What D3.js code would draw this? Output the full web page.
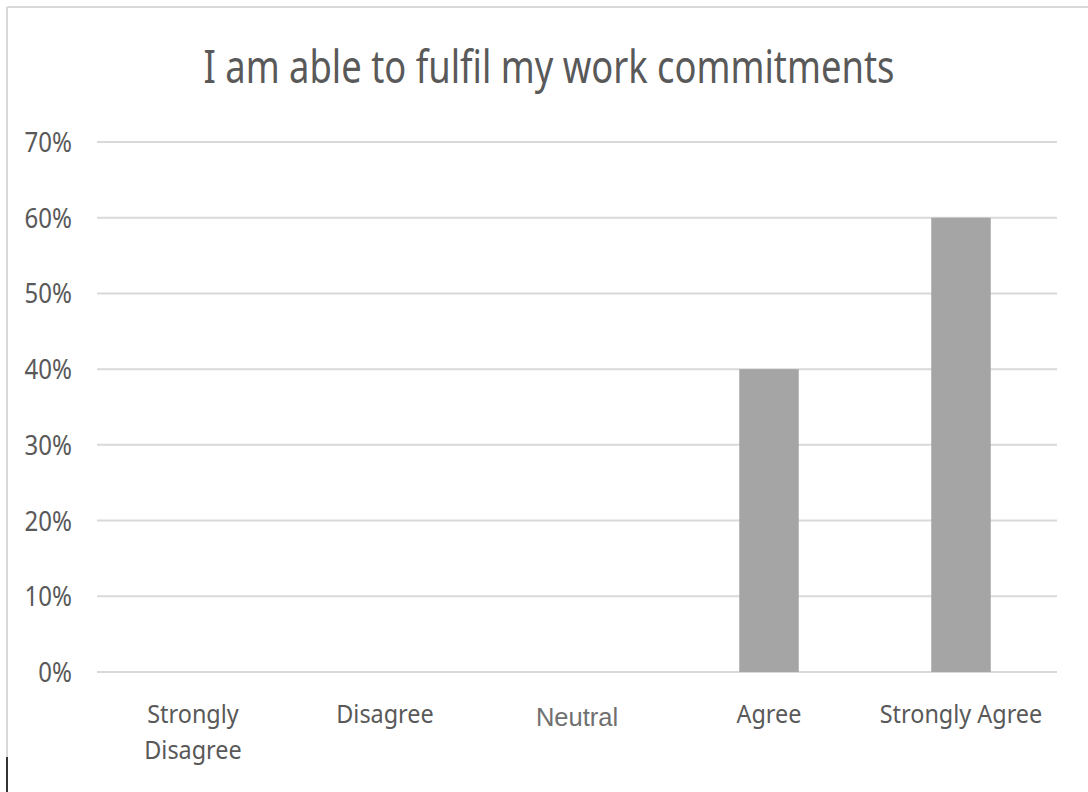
<!DOCTYPE html>
<html>
<head>
<meta charset="utf-8">
<script src="https://cdn.jsdelivr.net/npm/d3@7"></script>
<style>
  body { margin: 0; background: #fff; }
  svg { display: block; }
</style>
</head>
<body>
<div id="main"></div>
<script>

// data

const categories = ['Strongly Disagree', 'Disagree', 'Neutral', 'Agree', 'Strongly Agree'];
const values = [0, 0, 0, 0.40, 0.60];
const yTicks = [0, 0.1, 0.2, 0.3, 0.4, 0.5, 0.6, 0.7];
const chartTitle = 'I am able to fulfil my work commitments';

const w = 1088;
const h = 792;

// the source picture has narrow, tall letters
const squeeze = (sel, f) => sel.each(function () {
    const len = this.getComputedTextLength();
    d3.select(this).attr('textLength', len * f).attr('lengthAdjust', 'spacingAndGlyphs');
});

const svg = d3.select('#main').append('svg').attr('width', w).attr('height', h);

// chart frame
svg.append('line').attr('x1', 7).attr('x2', w).attr('y1', 7).attr('y2', 7)
    .attr('stroke', '#d9d9d9').attr('stroke-width', 2);
svg.append('line').attr('x1', 7).attr('x2', 7).attr('y1', 7).attr('y2', h)
    .attr('stroke', '#d9d9d9').attr('stroke-width', 2);
svg.append('line').attr('x1', 7).attr('x2', 7).attr('y1', 757).attr('y2', h)
    .attr('stroke', '#333').attr('stroke-width', 2);

// scales

const x = d3.scaleBand().domain(categories).range([97, 1057]).paddingInner(0.69).paddingOuter(0.345);
const xc = d3.scaleBand().domain(categories).range([97, 1057]);
const y = d3.scaleLinear().domain([0, 0.7]).range([672, 142]);

// title
svg.append('text')
    .attr('x', 549).attr('y', 83)
    .attr('text-anchor', 'middle')
    .attr('font-family', 'Noto Sans')
    .attr('font-size', 46)
    .attr('fill', '#595959')
    .text(chartTitle)
    .call(squeeze, 0.79);

// gridlines
svg.append('g')
    .selectAll('line')
    .data(yTicks)
    .enter()
    .append('line')
    .attr('x1', 97).attr('x2', 1057)
    .attr('y1', d => y(d)).attr('y2', d => y(d))
    .attr('stroke', '#d9d9d9').attr('stroke-width', 2);

// y labels
svg.append('g')
    .selectAll('text')
    .data(yTicks)
    .enter()
    .append('text')
    .attr('x', 72)
    .attr('y', d => y(d) + 10)
    .attr('text-anchor', 'end')
    .attr('font-family', 'Noto Sans')
    .attr('font-size', 27)
    .attr('fill', '#595959')
    .text(d => Math.round(d * 100) + '%')
    .call(squeeze, 0.89);

// bars
svg.append('g')
    .selectAll('rect')
    .data(values)
    .enter()
    .append('rect')
    .attr('x', (d, i) => x(categories[i]))
    .attr('width', x.bandwidth())
    .attr('y', d => y(d))
    .attr('height', d => y(0) - y(d))
    .attr('fill', '#a5a5a5');

// x labels
const xl = svg.append('g')
    .selectAll('text')
    .data(categories)
    .enter()
    .append('text')
    .attr('text-anchor', 'middle')
    .attr('fill', d => d === 'Neutral' ? '#707070' : '#595959')
    .attr('font-family', d => d === 'Neutral' ? 'Liberation Sans' : 'Noto Sans')
    .attr('font-size', d => d === 'Neutral' ? 25.5 : 26);

xl.each(function (d) {
    const t = d3.select(this);
    const cx = xc(d) + xc.bandwidth() / 2;
    const lines = d === 'Strongly Disagree' ? ['Strongly', 'Disagree'] : [d];
    lines.forEach((s, k) => {
        t.append('tspan')
            .attr('x', cx)
            .attr('y', (d === 'Neutral' ? 726 : 723) + k * 36)
            .text(s);
    });
});

xl.filter(d => d !== 'Neutral').selectAll('tspan').call(squeeze, 0.9);

</script>
</body>
</html>
